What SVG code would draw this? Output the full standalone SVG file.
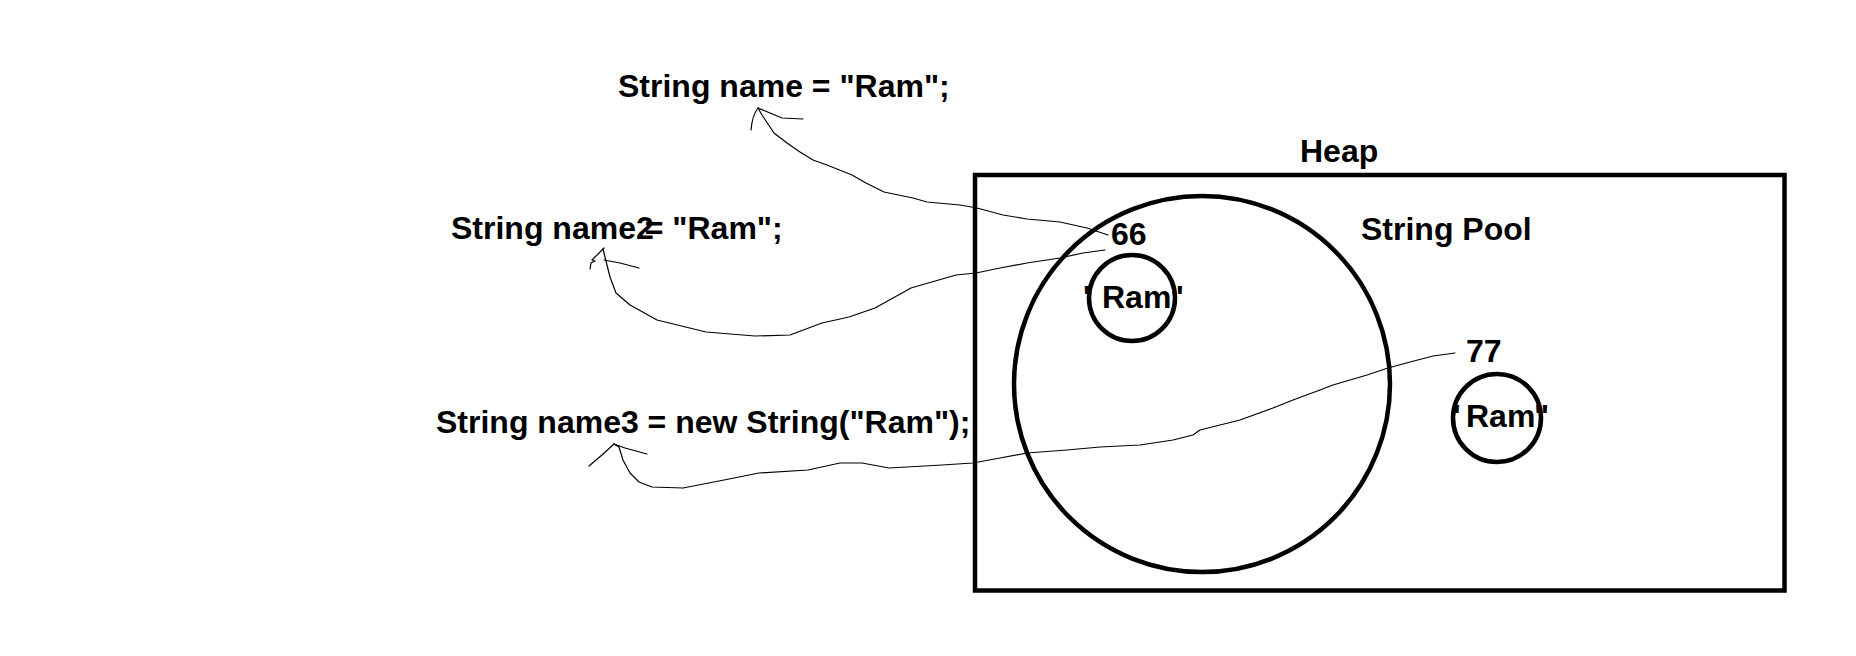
<svg xmlns="http://www.w3.org/2000/svg" width="1856" height="656" viewBox="0 0 1856 656">
  <style>
    text { font-family: "Liberation Sans", Arial, sans-serif; font-weight: bold; font-size: 32px; fill: #000; }
    .thick { fill: none; stroke: #000; stroke-width: 4.5; }
    .pen { fill: none; stroke: #000; stroke-width: 1.2; stroke-linejoin: round; stroke-linecap: round; }
  </style>
  <rect width="1856" height="656" fill="#fff"/>

  <g id="code1">
    <text x="618" y="97">String name = "Ram";</text>
  </g>
  <g id="code2">
    <text x="451" y="239">String name2<tspan dx="-9">= "Ram";</tspan></text>
  </g>
  <g id="code3">
    <text x="436" y="433">String name3 = new String("Ram");</text>
  </g>

  <g id="heap">
    <rect class="thick" x="975" y="175" width="809.5" height="415.5"/>
    <text x="1300" y="162">Heap</text>
  </g>

  <g id="string-pool">
    <circle class="thick" cx="1202" cy="384" r="188"/>
    <text x="1361" y="240">String Pool</text>
  </g>

  <g id="ram-66">
    <circle class="thick" cx="1132" cy="298" r="43"/>
    <text x="1111" y="245">66</text>
    <text x="1083" y="308">'<tspan x="1102">Ram</tspan><tspan x="1176">'</tspan></text>
  </g>

  <g id="ram-77">
    <circle class="thick" cx="1497" cy="418" r="44"/>
    <text x="1466" y="362">77</text>
    <text x="1453" y="427">'<tspan x="1466">Ram</tspan><tspan x="1534">"</tspan></text>
  </g>

  <g id="connectors">
    <path class="pen" d="M758,108 L762,115 L770,127 L774,133 L787,143 L800,152 L813,160 L827,165 L852,175 L866,183 L884,192 L913,198 L927,202 L960,205 L977,208 L1003,215 L1027,219 L1060,222 L1087,228 L1108,235"/>
    <path class="pen" d="M758,108 Q752,116 751,130"/>
    <path class="pen" d="M758,108 L782,118 L803,119"/>

    <path class="pen" d="M603,249 L605,257 L610,277 L616,293 L630,305 L657,320 L706,332 L755,336 L790,335 L822,323 L849,317 L875,308 L911,288 L956,275 L976,273 L1000,268 L1027,263 L1060,258 L1083,253 L1105,250"/>
    <path class="pen" d="M604,248 L595,257 L592,260 L595,261 L591,263 L590,269"/>
    <path class="pen" d="M604,260 L620,263 L639,268"/>

    <path class="pen" d="M614,444 L619,447 L623,460 L630,473 L639,482 L652,487 L683,488 L724,480 L759,473 L808,470 L840,463 L862,463 L889,468 L942,465 L973,463 L1000,458 L1027,453 L1067,450 L1100,447 L1140,445 L1173,440 L1193,435 L1200,430 L1240,420 L1273,408 L1293,400 L1320,390 L1333,385 L1367,375 L1388,368 L1410,362 L1433,356 L1455,353"/>
    <path class="pen" d="M614,444 L602,455 L589,466"/>
    <path class="pen" d="M614,444 L625,448 L647,454"/>
  </g>
</svg>
